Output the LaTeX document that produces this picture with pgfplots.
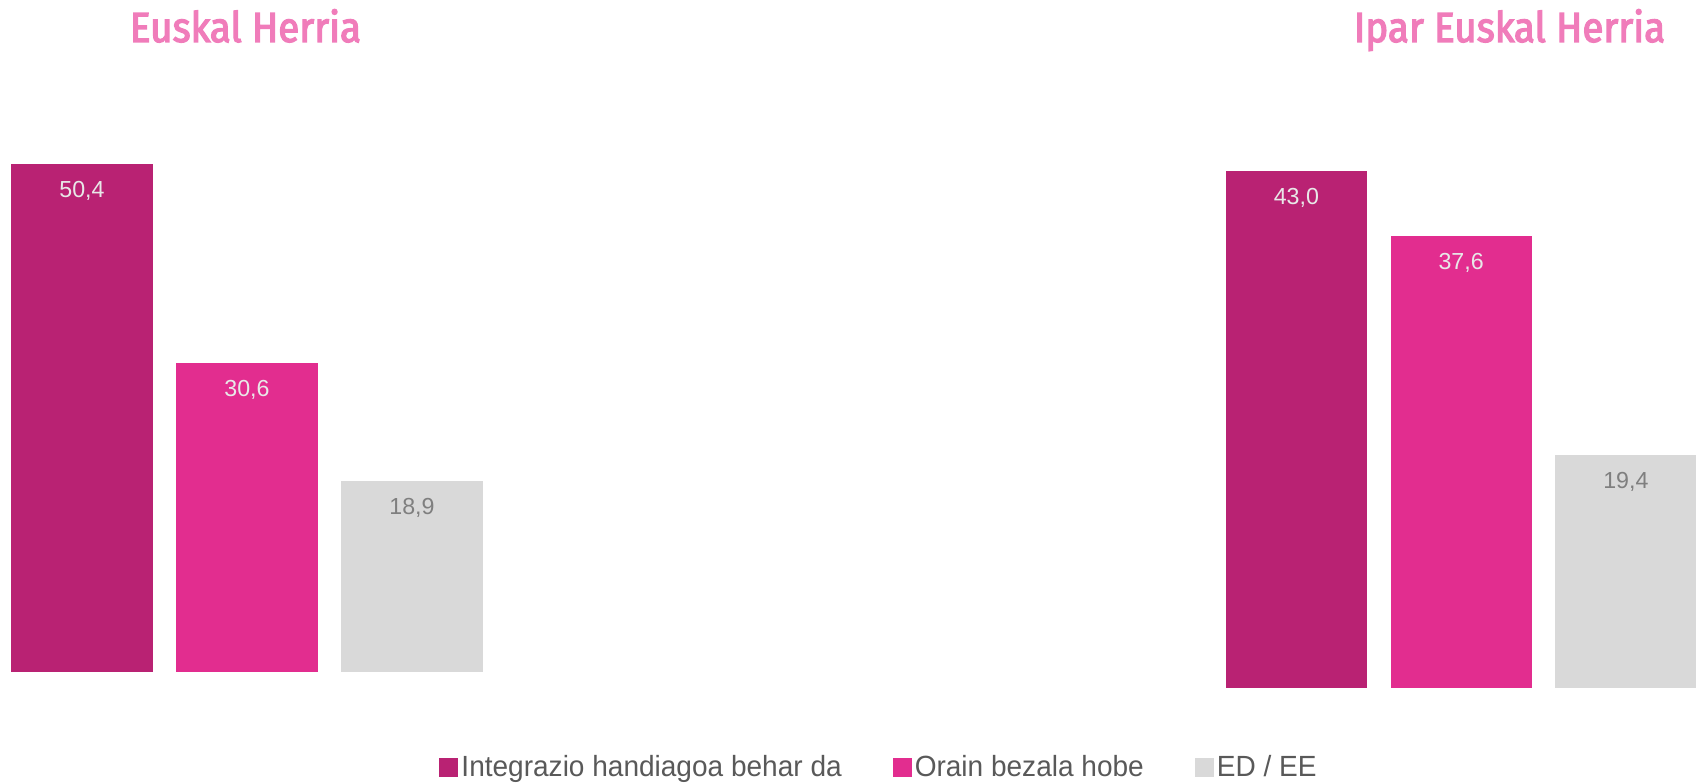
\documentclass[border=0pt]{standalone}
\usepackage{pgfplots}
\pgfplotsset{compat=1.18}
\usepackage{fontspec}
\setmainfont{Liberation Sans}
\newfontfamily\legfont{Liberation Sans}[FakeStretch=0.96]
\newfontfamily\titfont{Fira Sans}[FakeStretch=0.92, FakeBold=3]
\definecolor{cA}{RGB}{185,34,115}
\definecolor{cB}{RGB}{226,45,143}
\definecolor{cC}{RGB}{217,217,217}
\definecolor{titpink}{RGB}{240,124,186}
\definecolor{lablight}{RGB}{232,232,232}
\definecolor{labgray}{RGB}{127,127,127}
\definecolor{leggray}{RGB}{89,89,89}
\pgfplotsset{
  mybars/.style={
    scale only axis, axis lines=none, xtick=\empty, ytick=\empty,
    clip=false, ybar, xmin=-0.5, xmax=2.5, ymin=0,
    nodes near coords,
    /pgf/number format/.cd, fixed, fixed zerofill, precision=1, use comma, assume math mode=true,
    /pgfplots/.cd,
    every node near coord/.append style={anchor=center, yshift=-13.5pt, font=\fontsize{11.6pt}{14pt}\selectfont},
  }
}
\begin{document}
\begin{tikzpicture}
\useasboundingbox (0,0) rectangle (848pt,391.5pt);
% Left: Euskal Herria
\begin{axis}[mybars,
  at={(-0.25pt,55.65pt)}, anchor=south west,
  width=247.5pt, height=302.4pt, ymax=60,
  bar width=71pt,
  legend columns=3,
  legend style={draw=none, fill=none, at={(1.7778,-0.1576)}, anchor=center,
    font=\legfont\fontsize{14.6pt}{17pt}\selectfont, text=leggray,
    /tikz/every even column/.append style={column sep=24pt},
    nodes={inner sep=1.5pt}},
  legend image code/.code={\fill[#1, draw=none] (0pt,-4.75pt) rectangle (9.5pt,4.75pt);},
]
\addplot[fill=cA, draw=none, bar shift=0pt, every node near coord/.append style={text=lablight}] coordinates {(0,50.4)};
\addlegendentry{Integrazio handiagoa behar da}
\addplot[fill=cB, draw=none, bar shift=0pt, every node near coord/.append style={text=lablight}] coordinates {(1,30.6)};
\addlegendentry{Orain bezala hobe}
\addplot[fill=cC, draw=none, bar shift=0pt, every node near coord/.append style={text=labgray}] coordinates {(2,18.9)};
\addlegendentry{ED / EE}
\node[anchor=base, text=titpink, font=\titfont\fontsize{21pt}{24pt}\selectfont] at (rel axis cs:0.497,1.0412) {Euskal Herria};
\end{axis}
% Right: Ipar Euskal Herria
\begin{axis}[mybars,
  at={(607pt,47.65pt)}, anchor=south west,
  width=247.125pt, height=300.5pt, ymax=50,
  bar width=70.5pt,
]
\addplot[fill=cA, draw=none, bar shift=0pt, every node near coord/.append style={text=lablight}] coordinates {(0,43.0)};
\addplot[fill=cB, draw=none, bar shift=0pt, every node near coord/.append style={text=lablight}] coordinates {(1,37.6)};
\addplot[fill=cC, draw=none, bar shift=0pt, every node near coord/.append style={text=labgray}] coordinates {(2,19.4)};
\node[anchor=base, text=titpink, font=\titfont\fontsize{21pt}{24pt}\selectfont] at (rel axis cs:0.598,1.0744) {Ipar Euskal Herria};
\end{axis}
\end{tikzpicture}
\end{document}
